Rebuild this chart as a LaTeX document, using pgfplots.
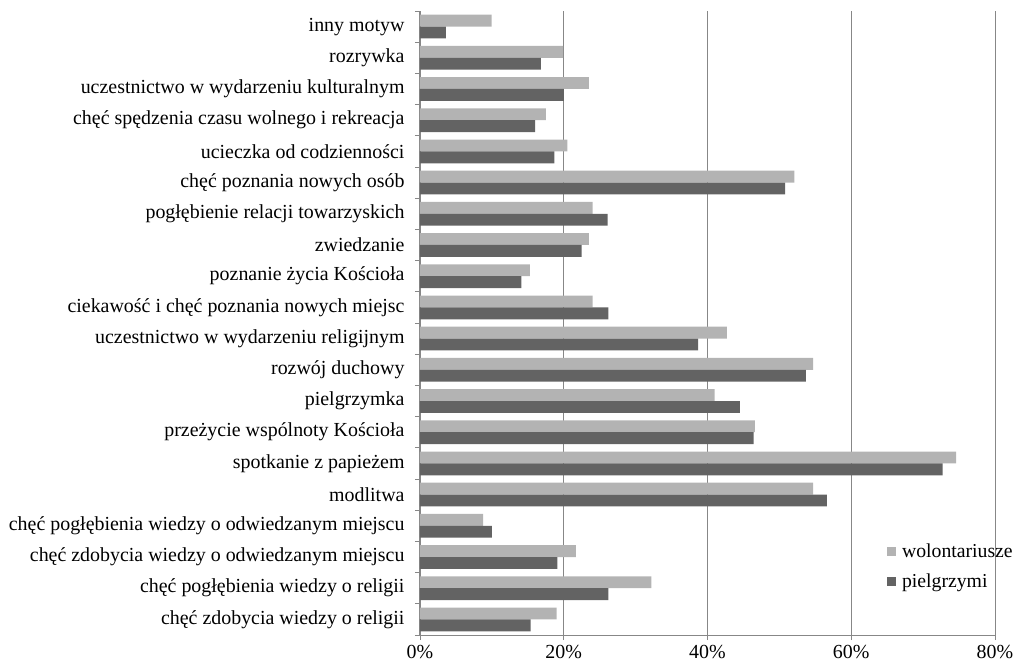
\documentclass[border=0pt]{standalone}
\usepackage{pgfplots}
\pgfplotsset{compat=1.18}
\usepackage{fontspec}
\setmainfont{Liberation Serif}
\definecolor{lightbar}{RGB}{179,179,179}
\definecolor{darkbar}{RGB}{99,99,99}
\definecolor{gridgray}{RGB}{135,135,135}

\begin{document}
\begin{tikzpicture}
\begin{axis}[
    scale only axis,
    width=575bp, height=624bp,
    xmin=0, xmax=80,
    ymin=0.5, ymax=20.5,
    xtick={0,20,40,60,80},
    xticklabels={0\%,20\%,40\%,60\%,80\%},
    ytick={1,...,20},
    yticklabels={
      chęć zdobycia wiedzy o religii,
      chęć pogłębienia wiedzy o religii,
      chęć zdobycia wiedzy o odwiedzanym miejscu,
      chęć pogłębienia wiedzy o odwiedzanym miejscu,
      modlitwa,
      spotkanie z papieżem,
      przeżycie wspólnoty Kościoła,
      pielgrzymka\hspace{0.25em},
      rozwój duchowy,
      uczestnictwo w wydarzeniu religijnym,
      ciekawość i chęć poznania nowych miejsc,
      poznanie życia Kościoła\hspace{0.25em},
      zwiedzanie,
      pogłębienie relacji towarzyskich\hspace{0.25em},
      chęć poznania nowych osób\hspace{0.25em},
      ucieczka od codzienności,
      chęć spędzenia czasu wolnego i rekreacja,
      uczestnictwo w wydarzeniu kulturalnym,
      rozrywka,
      inny motyw},
    minor ytick={0.5,1.5,...,20.5},
    axis x line*=bottom,
    axis y line*=left,
    axis line style={gridgray, line width=0.8bp, -},
    tick align=outside,
    major tick length=5bp,
    minor tick length=5bp,
    major y tick style={draw=none},
    minor y tick style={gridgray, line width=0.8bp},
    major x tick style={gridgray, line width=0.8bp},
    xmajorgrids=true,
    grid style={gridgray, line width=1bp},
    ticklabel style={font=\fontsize{20}{23}\selectfont},
    yticklabel style={xshift=-7bp},
    xticklabel style={yshift=-2bp},
    xbar,
    bar width=0.38,
    legend style={at={(rel axis cs:0.812,0.15)}, anchor=north west,
      draw=none, fill=none, font=\fontsize{19.8}{23}\selectfont,
      row sep=11bp, inner sep=0pt},
    legend cell align=left,
    legend image code/.code={\fill (0bp,-4.5bp) rectangle (9bp,4.5bp); \path (13bp,0bp);},
]
\addplot[fill=lightbar, draw=none, bar shift=0.19] coordinates {
  (19.0,1) (32.2,2) (21.7,3) (8.8,4) (54.7,5)
  (74.6,6) (46.6,7) (41.0,8) (54.7,9) (42.7,10)
  (24.0,11) (15.3,12) (23.5,13) (24.0,14) (52.1,15)
  (20.5,16) (17.5,17) (23.5,18) (19.9,19) (9.95,20)
};
\addlegendentry{wolontariusze}
\addplot[fill=darkbar, draw=none, bar shift=-0.19] coordinates {
  (15.4,1) (26.2,2) (19.1,3) (10.0,4) (56.6,5)
  (72.7,6) (46.4,7) (44.5,8) (53.7,9) (38.7,10)
  (26.2,11) (14.1,12) (22.5,13) (26.1,14) (50.8,15)
  (18.7,16) (16.0,17) (20.0,18) (16.8,19) (3.6,20)
};
\addlegendentry{pielgrzymi}
\coordinate (bl) at (rel axis cs:0,0);
\coordinate (tr) at (rel axis cs:1,1);
\end{axis}
\pgfresetboundingbox
\path[use as bounding box] ([xshift=-420bp,yshift=-32bp]bl) rectangle ([xshift=23bp,yshift=11bp]tr);
\end{tikzpicture}
\end{document}
